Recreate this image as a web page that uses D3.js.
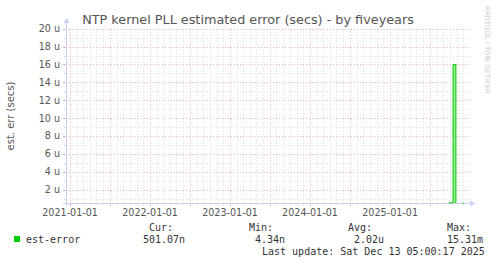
<!DOCTYPE html>
<html>
<head>
<meta charset="utf-8">
<script src="https://cdn.jsdelivr.net/npm/d3@7"></script>
<style>
  body { margin: 0; background: #fff; }
  svg { display: block; }
</style>
</head>
<body>
<div id="chart"></div>
<script>
// rrd data, only the last weeks have samples
var dates = ["2025-09-26", "2025-10-15", "2025-10-28", "2025-11-18", "2025-11-20", "2025-11-24", "2025-11-26", "2025-12-02", "2025-12-04"];
var errVals = [0.52, 16.0, 0.5, null, 0.5, null, 0.5, 0.5, null]; // micro seconds
var yTicks = [2, 4, 6, 8, 10, 12, 14, 16, 18, 20];
var yearLabels = ["2021-01-01", "2022-01-01", "2023-01-01", "2024-01-01", "2025-01-01"];
var legendStats = [["Cur:", "501.07n"], ["Min:", "4.34n"], ["Avg:", "2.02u"], ["Max:", "15.31m"]];

var W = 497, H = 264;
var pLeft = 66, pRight = 466, pTop = 28.7, pBottom = 203;
var parse = d3.utcParse("%Y-%m-%d");
var t0 = new Date(Date.UTC(2020, 11, 13, 5)), t1 = new Date(Date.UTC(2025, 11, 13, 5));
var minorCol = '#dcdcdc', majorCol = '#eab4b4';

var svg = d3.select('#chart').append('svg').attr('width', W).attr('height', H)
  .style('font-family', 'DejaVu Sans, sans-serif');

var x = d3.scaleUtc().domain([t0, t1]).range([pLeft, pRight]);
var y = d3.scaleLinear().domain([0.5, 20]).range([pBottom, pTop]);

var grid = svg.append('g');
// grid, minor = month / 1u, major = half year / 2u
d3.utcMonth.range(t0, t1).forEach(function(d) {
  var px = Math.round(x(d)) + 0.5;
  var major = d.getUTCMonth() % 6 == 0;
  grid.append('line').attr('x1', px).attr('x2', px).attr('y1', pTop).attr('y2', pBottom)
    .attr('stroke', major ? majorCol : minorCol).attr('stroke-dasharray', '1,2');
  grid.append('line').attr('x1', px).attr('x2', px).attr('y1', pBottom).attr('y2', pBottom + (major ? 3 : 2))
    .attr('stroke', major ? majorCol : minorCol);
});
d3.range(1, 21).forEach(function(v) {
  var py = Math.round(y(v)) + 0.5;
  var major = v % 2 == 0;
  grid.append('line').attr('x1', pLeft).attr('x2', pRight + 3).attr('y1', py).attr('y2', py)
    .attr('stroke', major ? majorCol : minorCol).attr('stroke-dasharray', '1,2');
  grid.append('line').attr('x1', pLeft - (major ? 3 : 2)).attr('x2', pLeft).attr('y1', py).attr('y2', py)
    .attr('stroke', major ? majorCol : minorCol);
});

// axis lines + arrows
svg.append('line').attr('x1', pLeft + 0.5).attr('x2', pLeft + 0.5).attr('y1', pBottom + 3).attr('y2', 22)
  .attr('stroke', '#c8d0f4');
svg.append('path').attr('d', 'M' + (pLeft - 2.5) + ',23 L' + (pLeft + 3.5) + ',23 L' + (pLeft + 0.5) + ',18 Z').attr('fill', '#c8d0f4');
svg.append('line').attr('x1', pLeft - 3).attr('x2', 471).attr('y1', pBottom + 0.5).attr('y2', pBottom + 0.5)
  .attr('stroke', '#c8d0f4');
svg.append('path').attr('d', 'M470,' + (pBottom - 2.5) + ' L470,' + (pBottom + 3.5) + ' L475,' + (pBottom + 0.5) + ' Z').attr('fill', '#c8d0f4');

// tick labels
yTicks.forEach(function(v) {
  svg.append('text').attr('x', 60).attr('y', y(v) + 3.5).attr('text-anchor', 'end')
    .attr('font-size', 9.6).attr('fill', '#555').text(v + ' u');
});
yearLabels.forEach(function(s) {
  svg.append('text').attr('x', x(parse(s))).attr('y', 216).attr('text-anchor', 'middle')
    .attr('font-size', 9.6).attr('fill', '#555').text(s);
});

// title & side texts
svg.append('text').attr('x', 248).attr('y', 24).attr('text-anchor', 'middle')
  .attr('font-size', 12.8).attr('fill', '#555').text('NTP kernel PLL estimated error (secs) - by fiveyears');
svg.append('text').attr('transform', 'translate(14,116) rotate(-90)').attr('text-anchor', 'middle')
  .attr('font-size', 10).attr('fill', '#555').text('est. err (secs)');
svg.append('text').attr('transform', 'translate(485,6) rotate(90)').attr('text-anchor', 'start')
  .attr('font-size', 6.8).attr('fill', '#c8c8c8').text('RRDTOOL / TOBI OETIKER');

// data
var pts = dates.map(function(d, i) { return {t: parse(d), v: errVals[i]}; });
var area = d3.area().defined(function(d) { return d.v != null; })
  .x(function(d) { return x(d.t); }).y0(pBottom).y1(function(d) { return y(d.v); })
  .curve(d3.curveStepAfter);
var line = d3.line().defined(function(d) { return d.v != null; })
  .x(function(d) { return x(d.t); }).y(function(d) { return y(d.v); })
  .curve(d3.curveStepAfter);
svg.append('path').datum(pts).attr('d', area).attr('fill', '#00cc00').attr('opacity', 0.4);
svg.append('path').datum(pts).attr('d', line).attr('fill', 'none').attr('stroke', '#00cc00').attr('stroke-width', 1);

// legend
var mono = 'DejaVu Sans Mono, monospace';
svg.append('rect').attr('x', 14).attr('y', 236).attr('width', 6).attr('height', 6).attr('fill', '#00cc00');
svg.append('text').attr('x', 26).attr('y', 243).attr('font-family', mono).attr('font-size', 10)
  .attr('fill', '#333').text('est-error');
var colX = [[149, 143], [249, 255], [348, 354], [447, 447]];
legendStats.forEach(function(s, i) {
  svg.append('text').attr('x', colX[i][0]).attr('y', 231).attr('font-family', mono).attr('font-size', 10)
    .attr('fill', '#333').text(s[0]);
  svg.append('text').attr('x', colX[i][1]).attr('y', 243).attr('font-family', mono).attr('font-size', 10)
    .attr('fill', '#333').text(s[1]);
});
svg.append('text').attr('x', 262).attr('y', 255).attr('font-family', mono).attr('font-size', 10)
  .attr('fill', '#333').text('Last update: Sat Dec 13 05:00:17 2025');
</script>
</body>
</html>
